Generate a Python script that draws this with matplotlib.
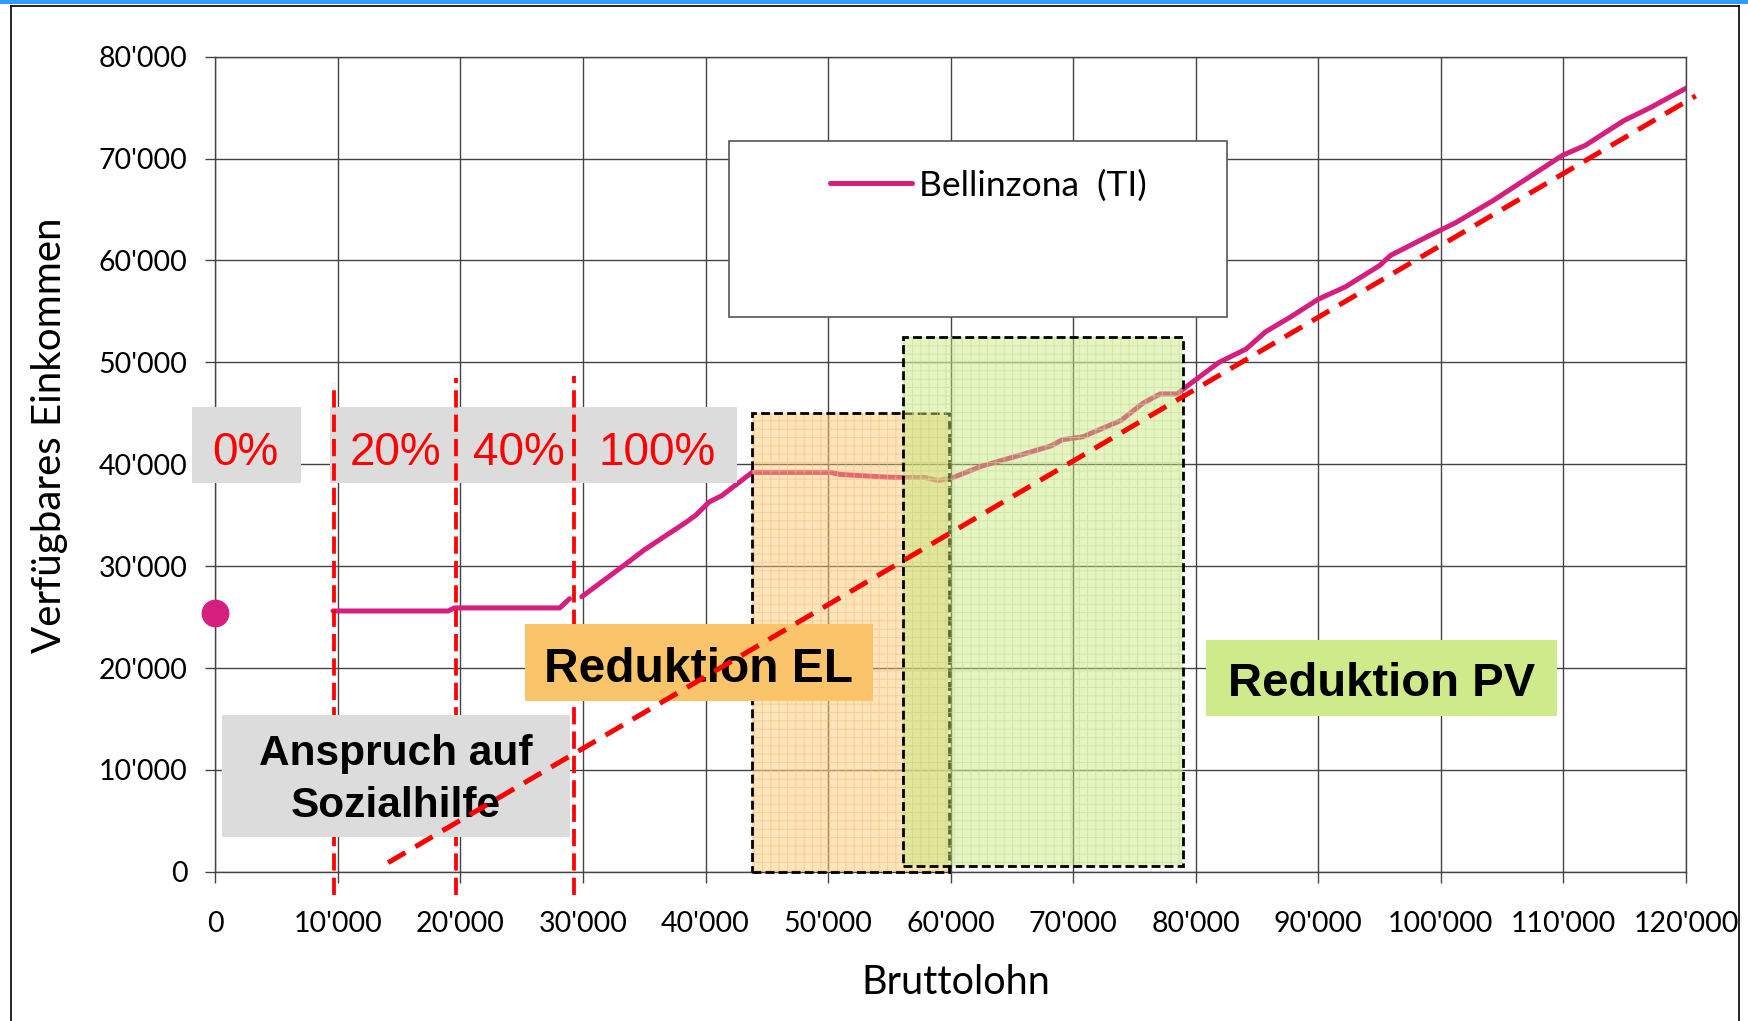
import matplotlib
matplotlib.use("Agg")
import matplotlib.pyplot as plt
import numpy as np
from matplotlib.patches import Rectangle
from matplotlib.lines import Line2D
from matplotlib.ticker import FuncFormatter

# ---------------- data ----------------
dot_x = [0]
dot_y = [25400]

line_x = [9600, 19000, 19500, 28100, 28900, 29300, 29900, 33700, 35000, 38400,
          39200, 40300, 41300, 43800, 50200, 51000, 55300, 57900, 59000, 60200,
          62500, 65400, 68200, 69100, 70800, 73900, 75700, 77100, 78500, 79000,
          81000, 81900, 84100, 85700, 87800, 90000, 92200, 95000, 95900, 99000,
          101200, 104300, 107100, 109900, 111800, 114900, 117100, 120000]
line_y = [25600, 25600, 25900, 25900, 26800, np.nan, 27000, 30400, 31600, 34300,
          35000, 36300, 36900, 39200, 39200, 39000, 38700, 38700, 38400, 38700,
          39800, 40800, 41800, 42400, 42700, 44300, 46000, 46900, 46900, 47400,
          49200, 50000, 51300, 53000, 54500, 56200, 57400, 59500, 60500, 62400,
          63700, 65900, 68100, 70300, 71300, 73700, 75000, 76900]

diag_x = [14100, 120800]
diag_y = [900, 76150]

sh_x = [9700, 19600, 29300]
sh_top = [47950, 48460, 48660]
sh_bottom = -2300

pct_labels = ["0%", "20%", "40%", "100%"]
pct_x = [2480, 14740, 24800, 36020]

series_name = "Bellinzona  (TI)"
x_ticks = list(range(0, 120001, 10000))
y_ticks = list(range(0, 80001, 10000))

# ---------------- style ----------------
MAG = "#D61E7F"
RED = "#FF0000"
GRID = "#444444"
TICKFONT = "Lato"
BOXFONT = "Liberation Sans"
plt.rcParams["hatch.linewidth"] = 0.7


def fmt(v, pos=None):
    v = int(round(v))
    return f"{v:,}".replace(",", "'")


fig = plt.figure(figsize=(17.48, 10.21), dpi=100)
ax = fig.add_axes([0.1232, 0.1461, 0.8413, 0.7984])
ax.set_xlim(0, 120000)
ax.set_ylim(0, 80000)
ax.set_xticks(x_ticks)
ax.set_yticks(y_ticks)
ax.xaxis.set_major_formatter(FuncFormatter(fmt))
ax.yaxis.set_major_formatter(FuncFormatter(fmt))
ax.grid(True, color=GRID, linewidth=1.0)
ax.set_axisbelow(True)
for s in ax.spines.values():
    s.set_color(GRID)
    s.set_linewidth(1.0)
ax.tick_params(axis="x", direction="out", length=8, width=1, color=GRID, pad=20,
               labelsize=20.5)
ax.tick_params(axis="y", direction="out", length=7, width=1, color=GRID, pad=13,
               labelsize=20.5)
for lab in ax.get_xticklabels() + ax.get_yticklabels():
    lab.set_fontfamily(TICKFONT)

ax.set_xlabel("Bruttolohn", fontsize=28.5, fontfamily=TICKFONT)
ax.set_ylabel("Verfügbares Einkommen", fontsize=29, fontfamily=TICKFONT)
ax.xaxis.set_label_coords(0.5036, -0.113)
ax.yaxis.set_label_coords(-0.100, 0.536)

# main series
ax.plot(line_x, line_y, color=MAG, linewidth=3.6, zorder=2, label=series_name,
        solid_capstyle="round", solid_joinstyle="round")
ax.plot(dot_x, dot_y, "o", color=MAG, markersize=19, zorder=7, clip_on=False)

# shaded reduction regions
def region(x0, x1, y0, y1, face, hatchc, z):
    ax.add_patch(Rectangle((x0, y0), x1 - x0, y1 - y0, facecolor=face, alpha=0.45,
                           edgecolor="none", zorder=z))
    ax.add_patch(Rectangle((x0, y0), x1 - x0, y1 - y0, facecolor="none",
                           edgecolor=hatchc, hatch="++", linewidth=0, alpha=0.6,
                           zorder=z + 0.1))
    ax.add_patch(Rectangle((x0, y0), x1 - x0, y1 - y0, facecolor="none",
                           edgecolor="black", linewidth=2.0, linestyle=(0, (3.2, 1.5)),
                           zorder=z + 0.2, clip_on=False))

region(43800, 59850, 0, 45000, "#FBC46A", "#F2C27A", 3.0)
region(56100, 78950, 600, 52450, "#C6E87A", "#C2E08A", 3.5)

# legend frame + legend
ax.add_patch(Rectangle((41880, 54480), 82530 - 41880, 71750 - 54480, facecolor="white",
                       edgecolor="#555555", linewidth=1.2, zorder=4))
leg = ax.legend(loc="center left", bbox_to_anchor=(0.418, 0.8422), frameon=False,
                borderpad=0, borderaxespad=0, handlelength=2.3, handletextpad=0.22,
                prop={"family": TICKFONT, "size": 25.5})
leg.set_zorder(4.5)

# percentage boxes
gray = "#DCDCDC"
ax.add_patch(Rectangle((-1910, 38160), 6990 + 1910, 45620 - 38160, facecolor=gray,
                       edgecolor="none", zorder=4, clip_on=False))
ax.add_patch(Rectangle((9360, 38160), 42540 - 9360, 45620 - 38160, facecolor=gray,
                       edgecolor="none", zorder=4, clip_on=False))
for lab, xx in zip(pct_labels, pct_x):
    ax.text(xx, 39930, lab, color=RED, fontsize=33, fontfamily=BOXFONT,
            ha="center", va="baseline", zorder=4.2)

# social-assistance boundaries
for xx, top in zip(sh_x, sh_top):
    ax.add_line(Line2D([xx, xx], [sh_bottom, top], color=RED, linewidth=2.7,
                       dashes=(4.6, 1.9), zorder=5, clip_on=False))

# Anspruch auf Sozialhilfe box
ax.add_patch(Rectangle((550, 3445), 28940 - 550, 15390 - 3445, facecolor=gray,
                       edgecolor="none", zorder=6))
ax.text(14745, 10480, "Anspruch auf", fontsize=30.5, fontweight="bold",
        fontfamily=BOXFONT, ha="center", va="baseline", zorder=6.1)
ax.text(14745, 5410, "Sozialhilfe", fontsize=30.5, fontweight="bold",
        fontfamily=BOXFONT, ha="center", va="baseline", zorder=6.1)

# Reduktion EL / PV boxes
ax.add_patch(Rectangle((25270, 16760), 53660 - 25270, 24320 - 16760,
                       facecolor="#FAC46A", edgecolor="none", zorder=6))
ax.text(39450, 18660, "Reduktion EL", fontsize=34.5, fontweight="bold",
        fontfamily=BOXFONT, ha="center", va="baseline", zorder=6.1)
ax.add_patch(Rectangle((80850, 15290), 109490 - 80850, 22750 - 15290,
                       facecolor="#CFEA8A", edgecolor="none", zorder=6))
ax.text(95130, 17300, "Reduktion PV", fontsize=34, fontweight="bold",
        fontfamily=BOXFONT, ha="center", va="baseline", zorder=6.1)

# 1:1 diagonal
ax.add_line(Line2D(diag_x, diag_y, color=RED, linewidth=3.6, dashes=(4.0, 2.3),
                   zorder=7, clip_on=False))

# outer frame and blue top bar
fig.add_artist(Rectangle((0, 1 - 4.5 / 1021), 1, 4.5 / 1021, transform=fig.transFigure,
                         facecolor="#3399FF", edgecolor="none"))
fig.add_artist(Line2D([11 / 1748, 11 / 1748], [0, 1 - 6 / 1021], transform=fig.transFigure,
                      color="black", linewidth=1.2))
fig.add_artist(Line2D([1739 / 1748, 1739 / 1748], [0, 1 - 6 / 1021], transform=fig.transFigure,
                      color="black", linewidth=1.2))
fig.add_artist(Line2D([11 / 1748, 1739 / 1748], [1 - 6 / 1021, 1 - 6 / 1021],
                      transform=fig.transFigure, color="black", linewidth=1.2))

fig.savefig("out.png", dpi=100)
